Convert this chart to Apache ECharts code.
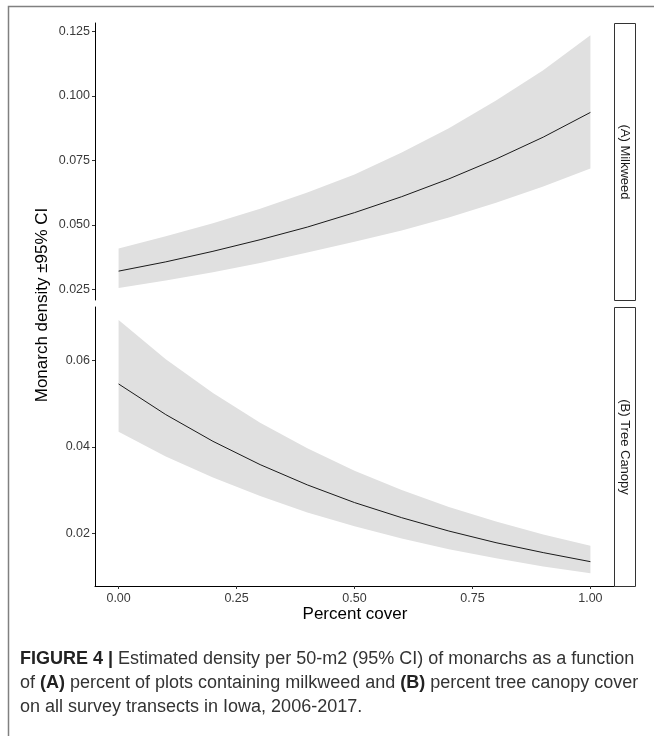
<!DOCTYPE html>
<html>
<head>
<meta charset="utf-8">
<script src="https://cdn.jsdelivr.net/npm/echarts@6/dist/echarts.min.js"></script>
<style>
  html, body { margin: 0; padding: 0; background: #fff; }
  #main { width: 654px; height: 736px; }
</style>
</head>
<body>
<div id="main"></div>
<script>
var myChart = echarts.init(document.getElementById('main'));

// percent cover, 0..1 by 0.1
var cover = [0, 0.1, 0.2, 0.3, 0.4, 0.5, 0.6, 0.7, 0.8, 0.9, 1.0];

// (A) Milkweed
var milkFit   = [0.0320, 0.0356, 0.0397, 0.0442, 0.0491, 0.0547, 0.0609, 0.0678, 0.0755, 0.0840, 0.0936];
var milkUpper = [0.0408, 0.0455, 0.0506, 0.0562, 0.0625, 0.0695, 0.0780, 0.0875, 0.0982, 0.1100, 0.1235];
var milkLower = [0.0255, 0.0284, 0.0316, 0.0352, 0.0392, 0.0434, 0.0478, 0.0528, 0.0585, 0.0648, 0.0718];

// (B) Tree Canopy
var treeFit   = [0.0546, 0.0475, 0.0413, 0.0359, 0.0312, 0.0271, 0.0236, 0.0205, 0.0178, 0.0155, 0.0134];
var treeUpper = [0.0694, 0.0603, 0.0525, 0.0456, 0.0397, 0.0345, 0.0300, 0.0261, 0.0227, 0.0197, 0.0171];
var treeLower = [0.0435, 0.0378, 0.0329, 0.0286, 0.0248, 0.0216, 0.0188, 0.0163, 0.0142, 0.0123, 0.0107];

var xTicks = [0, 0.25, 0.5, 0.75, 1.0];
var milkTicks = [0.025, 0.050, 0.075, 0.100, 0.125];
var treeTicks = [0.02, 0.04, 0.06];

function pairs(ys) {
    return cover.map(function (x, i) { return [x, ys[i]]; });
}

var font = 'Liberation Sans, Arial, sans-serif';
var bandColor = '#e0e0e0';

function xAxisOf(gridIndex, showAxis) {
    return {
        type: 'value', gridIndex: gridIndex, min: -0.05, max: 1.05,
        splitLine: { show: false },
        axisLine: { show: showAxis, onZero: false, lineStyle: { color: '#000', width: 1 } },
        axisTick: { show: showAxis, length: 3, customValues: xTicks, lineStyle: { color: '#333' } },
        axisLabel: {
            show: showAxis, customValues: xTicks, margin: 6,
            fontFamily: font, fontSize: 12.5, color: '#3a3a3a',
            formatter: function (v) { return v.toFixed(2); }
        }
    };
}
function yAxisOf(gridIndex, min, max, ticks, digits) {
    return {
        type: 'value', gridIndex: gridIndex, min: min, max: max,
        splitLine: { show: false },
        axisLine: { show: true, onZero: false, lineStyle: { color: '#000', width: 1 } },
        axisTick: { show: true, length: 3, customValues: ticks, lineStyle: { color: '#333' } },
        axisLabel: {
            customValues: ticks, margin: 5,
            fontFamily: font, fontSize: 12.5, color: '#3a3a3a',
            formatter: function (v) { return v.toFixed(digits); }
        }
    };
}
// confidence band as one polygon through the axis scales
function band(idx, up, lo) {
    return {
        type: 'custom', xAxisIndex: idx, yAxisIndex: idx, silent: true,
        data: [[cover[0], lo[0]]],
        renderItem: function (params, api) {
            var pts = [];
            cover.forEach(function (x, i) { pts.push(api.coord([x, up[i]])); });
            for (var i = cover.length - 1; i >= 0; i--) pts.push(api.coord([cover[i], lo[i]]));
            return { type: 'polygon', shape: { points: pts }, style: { fill: bandColor } };
        },
        z: 1
    };
}

var option = {
    backgroundColor: '#fff',
    animation: false,
    grid: [
        { left: 95, right: 40, top: 23, height: 277 },
        { left: 95, right: 40, top: 307, height: 279 }
    ],
    xAxis: [xAxisOf(0, false), xAxisOf(1, true)],
    yAxis: [
        yAxisOf(0, 0.0208, 0.1283, milkTicks, 3),
        yAxisOf(1, 0.00776, 0.07244, treeTicks, 2)
    ],
    series: [
        band(0, milkUpper, milkLower),
        band(1, treeUpper, treeLower),
        {
            type: 'line', name: 'Milkweed', xAxisIndex: 0, yAxisIndex: 0,
            data: pairs(milkFit), symbol: 'none', z: 3,
            lineStyle: { color: '#1a1a1a', width: 1 }
        },
        {
            type: 'line', name: 'Tree Canopy', xAxisIndex: 1, yAxisIndex: 1,
            data: pairs(treeFit), symbol: 'none', z: 3,
            lineStyle: { color: '#1a1a1a', width: 1 }
        }
    ],
    graphic: [
        // outer frame
        { type: 'polyline', shape: { points: [[8.5, 736], [8.5, 6.5], [654, 6.5]] },
          style: { stroke: '#808080', lineWidth: 1.5, fill: null } },
        // strips
        { type: 'rect', shape: { x: 614.5, y: 23.5, width: 21, height: 277 },
          style: { fill: '#fff', stroke: '#333', lineWidth: 1 } },
        { type: 'rect', shape: { x: 614.5, y: 307.5, width: 21, height: 279 },
          style: { fill: '#fff', stroke: '#333', lineWidth: 1 } },
        { type: 'text', x: 625, y: 162, rotation: -Math.PI / 2,
          style: { text: '(A) Milkweed', fontFamily: font, fontSize: 13, fill: '#1a1a1a',
                   align: 'center', verticalAlign: 'middle' } },
        { type: 'text', x: 625, y: 447, rotation: -Math.PI / 2,
          style: { text: '(B) Tree Canopy', fontFamily: font, fontSize: 13, fill: '#1a1a1a',
                   align: 'center', verticalAlign: 'middle' } },
        // axis titles
        { type: 'text', x: 42, y: 305, rotation: Math.PI / 2,
          style: { text: 'Monarch density \u00b195% CI', fontFamily: font, fontSize: 17, fill: '#000',
                   align: 'center', verticalAlign: 'middle' } },
        { type: 'text', x: 355, y: 614,
          style: { text: 'Percent cover', fontFamily: font, fontSize: 17, fill: '#000',
                   align: 'center', verticalAlign: 'middle' } },
        // caption
        { type: 'text', x: 20, y: 647,
          style: {
              text: '{b|FIGURE 4 |} Estimated density per 50-m2 (95% CI) of monarchs as a function\n' +
                    'of {b|(A)} percent of plots containing milkweed and {b|(B)} percent tree canopy cover\n' +
                    'on all survey transects in Iowa, 2006-2017.',
              fontFamily: font, fontSize: 18, lineHeight: 24, fill: '#333',
              align: 'left', verticalAlign: 'top',
              rich: {
                  b: { fontWeight: 'bold', fill: '#222', fontFamily: font, fontSize: 18, lineHeight: 24 }
              }
          } }
    ]
};

myChart.setOption(option);
</script>
</body>
</html>
